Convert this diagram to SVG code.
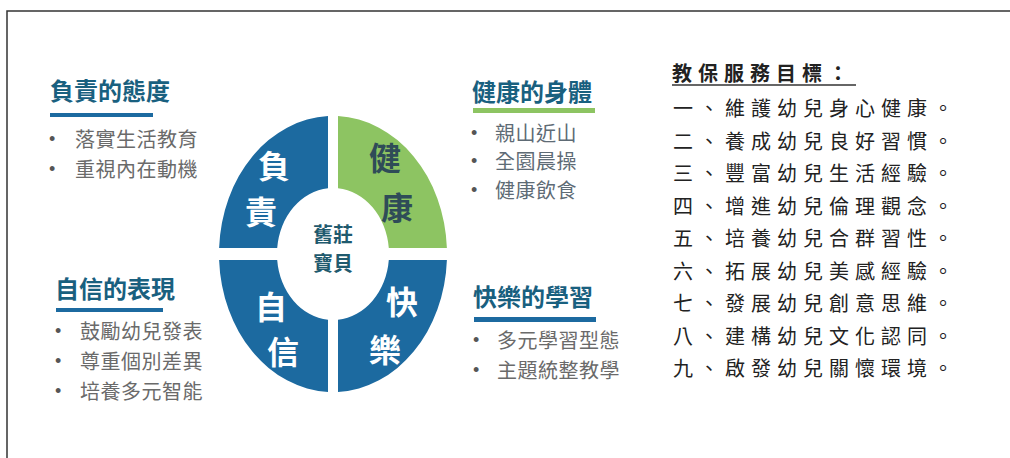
<svg xmlns="http://www.w3.org/2000/svg" width="1010" height="458" viewBox="0 0 1010 458">
<style>
text{font-family:"Noto Sans CJK TC","Noto Sans CJK SC",sans-serif;}
.hd{font-size:24px;font-weight:700;fill:#19607f;}
.it{font-size:20px;fill:#6a6a6a;letter-spacing:0.5px;}
.itb{font-size:20px;fill:#5e6b75;letter-spacing:0.5px;}
.bu{font-family:"Liberation Sans",Arial,sans-serif;font-size:18px;fill:#555;}
.q{font-size:32px;font-weight:700;fill:#ffffff;text-anchor:middle;}
.ct{font-size:20px;font-weight:700;fill:#1f5a6e;text-anchor:middle;}
.ls{font-size:20px;fill:#222;letter-spacing:6px;}
.blue{fill:#1c6aa0;}
.green{fill:#8dc462;}
</style>
<rect width="1010" height="458" fill="#ffffff"/>
<path d="M7,458 V11 H1010" fill="none" stroke="#333" stroke-width="1.5"/>

<g id="quad-fuze">
<path class="blue" d="M219.1,248 A114,138 0 0 1 328,116.1 L328,188.3 A56,66 0 0 0 277.2,248 Z"/>
<text class="q" x="274" y="178">負</text>
<text class="q" x="261" y="224">責</text>
</g>
<g id="quad-jiankang">
<path class="green" d="M338,116.1 A114,138 0 0 1 446.9,248 L388.8,248 A56,66 0 0 0 338,188.3 Z"/>
<text class="q" x="385" y="170" style="fill:#2f4c58">健</text>
<text class="q" x="397" y="220" style="fill:#2f4c58">康</text>
</g>
<g id="quad-kuaile">
<path class="blue" d="M446.9,260 A114,138 0 0 1 338,391.9 L338,319.7 A56,66 0 0 0 388.8,260 Z"/>
<text class="q" x="402" y="314">快</text>
<text class="q" x="385" y="362">樂</text>
</g>
<g id="quad-zixin">
<path class="blue" d="M328,391.9 A114,138 0 0 1 219.1,260 L277.2,260 A56,66 0 0 0 328,319.7 Z"/>
<text class="q" x="271" y="319">自</text>
<text class="q" x="283" y="364">信</text>
</g>
<g id="center">
<text class="ct" x="333" y="242">舊莊</text>
<text class="ct" x="333" y="271">寶貝</text>
</g>

<g id="fuze-attitude">
<text class="hd" x="50" y="100">負責的態度</text>
<rect class="blue" x="50" y="113" width="103" height="4"/>
<text class="bu" x="49" y="145">•</text>
<text class="it" x="75" y="147">落實生活教育</text>
<text class="bu" x="49" y="175">•</text>
<text class="it" x="75" y="177">重視內在動機</text>
</g>

<g id="zixin-expression">
<text class="hd" x="55" y="298">自信的表現</text>
<rect class="blue" x="56" y="308" width="107" height="4"/>
<text class="bu" x="55" y="337">•</text>
<text class="it" x="80" y="339">鼓勵幼兒發表</text>
<text class="bu" x="55" y="367">•</text>
<text class="it" x="80" y="369">尊重個別差異</text>
<text class="bu" x="55" y="397">•</text>
<text class="it" x="80" y="399">培養多元智能</text>
</g>

<g id="healthy-body">
<text class="hd" x="472" y="101">健康的身體</text>
<rect class="green" x="473" y="108" width="122" height="5"/>
<text class="bu" x="471" y="139">•</text>
<text class="itb" x="495" y="141">親山近山</text>
<text class="bu" x="471" y="167">•</text>
<text class="itb" x="495" y="169">全園晨操</text>
<text class="bu" x="471" y="196">•</text>
<text class="itb" x="495" y="198">健康飲食</text>
</g>

<g id="happy-learning">
<text class="hd" x="473" y="306">快樂的學習</text>
<rect class="blue" x="474" y="317" width="122" height="5"/>
<text class="bu" x="473" y="346">•</text>
<text class="it" x="497" y="348">多元學習型態</text>
<text class="bu" x="473" y="376">•</text>
<text class="it" x="497" y="378">主題統整教學</text>
</g>

<g id="goals">
<text class="ls" x="672" y="81" style="font-weight:700;letter-spacing:6px">教保服務目標：</text>
<line x1="672" y1="85" x2="856" y2="85" stroke="#333" stroke-width="1.5"/>
<text class="ls" x="673" y="116">一、維護幼兒身心健康。</text>
<text class="ls" x="673" y="148.5">二、養成幼兒良好習慣。</text>
<text class="ls" x="673" y="181">三、豐富幼兒生活經驗。</text>
<text class="ls" x="673" y="213.5">四、增進幼兒倫理觀念。</text>
<text class="ls" x="673" y="246">五、培養幼兒合群習性。</text>
<text class="ls" x="673" y="278.5">六、拓展幼兒美感經驗。</text>
<text class="ls" x="673" y="311">七、發展幼兒創意思維。</text>
<text class="ls" x="673" y="343.5">八、建構幼兒文化認同。</text>
<text class="ls" x="673" y="376">九、啟發幼兒關懷環境。</text>
</g>
</svg>
